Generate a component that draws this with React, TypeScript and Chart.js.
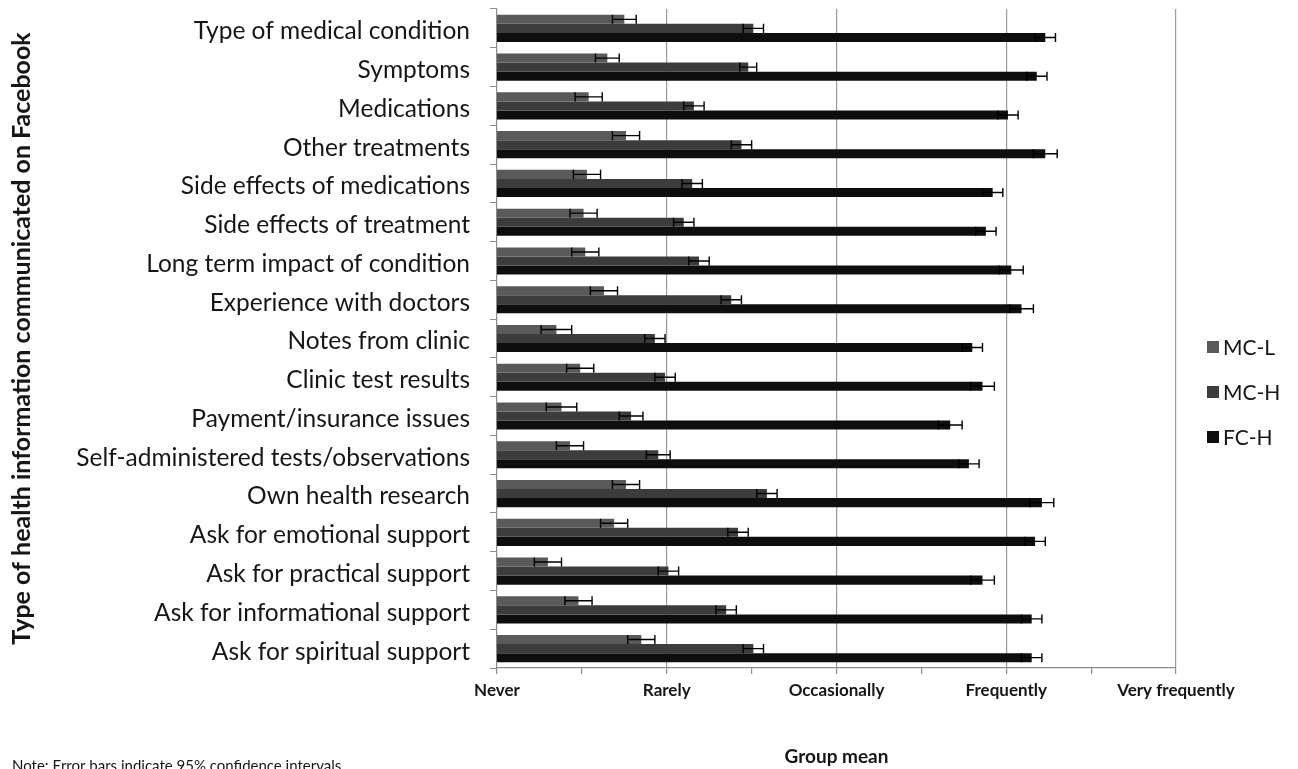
import React, { useEffect, useRef } from "react";
import { Chart, registerables } from "chart.js";

Chart.register(...registerables);

// Categories, top to bottom
const categories = [
  "Type of medical condition",
  "Symptoms",
  "Medications",
  "Other treatments",
  "Side effects of medications",
  "Side effects of treatment",
  "Long term impact of condition",
  "Experience with doctors",
  "Notes from clinic",
  "Clinic test results",
  "Payment/insurance issues",
  "Self-administered tests/observations",
  "Own health research",
  "Ask for emotional support",
  "Ask for practical support",
  "Ask for informational support",
  "Ask for spiritual support",
];

// Frequency scale labels (1 = Never ... 5 = Very frequently)
const scaleLabels = ["Never", "Rarely", "Occasionally", "Frequently", "Very frequently"];

const seriesNames = ["MC-L", "MC-H", "FC-H"];
const seriesColors = ["#5a5a5a", "#3c3c3c", "#0e0e0e"];

// Group means
const mcL = [1.75, 1.65, 1.54, 1.76, 1.53, 1.51, 1.52, 1.63, 1.35, 1.49, 1.38, 1.43, 1.76, 1.69, 1.3, 1.48, 1.85];
const mcH = [2.51, 2.48, 2.16, 2.44, 2.15, 2.1, 2.19, 2.38, 1.93, 1.99, 1.79, 1.95, 2.59, 2.42, 2.01, 2.35, 2.51];
const fcH = [4.23, 4.18, 4.01, 4.23, 3.92, 3.88, 4.03, 4.09, 3.8, 3.86, 3.67, 3.78, 4.21, 4.17, 3.86, 4.15, 4.15];

// 95% confidence interval half-widths
const mcLErr = [0.07, 0.07, 0.08, 0.08, 0.08, 0.08, 0.08, 0.08, 0.09, 0.08, 0.09, 0.08, 0.08, 0.08, 0.08, 0.08, 0.08];
const mcHErr = [0.06, 0.05, 0.06, 0.06, 0.06, 0.06, 0.06, 0.06, 0.06, 0.06, 0.07, 0.07, 0.06, 0.06, 0.06, 0.06, 0.06];
const fcHErr = [0.06, 0.06, 0.06, 0.07, 0.06, 0.06, 0.07, 0.07, 0.06, 0.07, 0.07, 0.06, 0.07, 0.06, 0.07, 0.06, 0.06];

const noteText = "Note: Error bars indicate 95% confidence intervals";

const FONT = "Lato, 'Open Sans', 'DejaVu Sans', sans-serif";
const TEXT = "#161616";
const AXIS = "#8c8c8c";

const errorBars = {
  id: "errorBars",
  afterDatasetsDraw(chart: any) {
    const ctx = chart.ctx;
    const x = chart.scales.x;
    ctx.save();
    ctx.strokeStyle = "#000";
    ctx.lineWidth = 1.4;
    chart.data.datasets.forEach((ds: any, di: number) => {
      const meta = chart.getDatasetMeta(di);
      if (meta.hidden) return;
      meta.data.forEach((bar: any, i: number) => {
        const v = ds.data[i];
        const e = ds.errors[i];
        const x0 = x.getPixelForValue(v - e);
        const x1 = x.getPixelForValue(v + e);
        const y = bar.y;
        const h = bar.height * 0.5;
        ctx.beginPath();
        ctx.moveTo(x0, y);
        ctx.lineTo(x1, y);
        ctx.moveTo(x0, y - h);
        ctx.lineTo(x0, y + h);
        ctx.moveTo(x1, y - h);
        ctx.lineTo(x1, y + h);
        ctx.stroke();
      });
    });
    ctx.restore();
  },
};

const extras = {
  id: "extras",
  afterDraw(chart: any) {
    const ctx = chart.ctx;
    const area = chart.chartArea;
    ctx.save();
    // legend
    const lx = area.right + 31;
    const ys = [347, 392, 437];
    ctx.font = `21px ${FONT}`;
    ctx.textBaseline = "middle";
    ctx.textAlign = "left";
    seriesNames.forEach((name, i) => {
      ctx.fillStyle = seriesColors[i];
      ctx.fillRect(lx, ys[i] - 6, 12, 12);
      ctx.fillStyle = TEXT;
      ctx.fillText(name, lx + 16, ys[i] + 1);
    });
    // note
    ctx.font = `15px ${FONT}`;
    ctx.fillStyle = TEXT;
    ctx.fillText(noteText, 12, 766);
    ctx.restore();
  },
};

export default function App() {
  const ref = useRef<HTMLCanvasElement>(null);

  useEffect(() => {
    if (!ref.current) return;
    const values = [mcL, mcH, fcH];
    const errs = [mcLErr, mcHErr, fcHErr];
    const chart = new Chart(ref.current, {
      type: "bar",
      data: {
        labels: categories,
        datasets: seriesNames.map((name, i) => ({
          label: name,
          data: values[i],
          errors: errs[i],
          backgroundColor: seriesColors[i],
          borderWidth: 0,
          barPercentage: 1,
          categoryPercentage: 0.7,
        })) as any,
      },
      options: {
        indexAxis: "y",
        animation: false,
        responsive: false,
        layout: { padding: { top: 9, right: 122, bottom: 0, left: 0 } },
        plugins: {
          legend: { display: false },
          tooltip: { enabled: false },
        },
        scales: {
          x: {
            type: "linear",
            min: 1,
            max: 5,
            ticks: {
              stepSize: 0.5,
              padding: 6,
              color: TEXT,
              font: { family: FONT, size: 17, weight: "bold" },
              callback: (v: any) => (Number.isInteger(v) ? scaleLabels[v - 1] : ""),
              maxRotation: 0,
              autoSkip: false,
            },
            grid: {
              color: (c: any) =>
                c.tick && Number.isInteger(c.tick.value) && c.tick.value > 1 ? "#9a9a9a" : "rgba(0,0,0,0)",
              tickColor: AXIS,
              tickLength: 6,
              lineWidth: 1.2,
            },
            border: { color: AXIS, width: 1.2 },
            title: {
              display: true,
              text: "Group mean",
              color: TEXT,
              font: { family: FONT, size: 19, weight: "bold" },
              padding: { top: 0, bottom: 1 },
            },
            afterFit: (s: any) => {
              s.height = 101;
            },
          },
          y: {
            ticks: {
              color: TEXT,
              font: { family: FONT, size: 24.5 },
              padding: 20,
              labelOffset: 3,
              autoSkip: false,
            },
            grid: {
              drawOnChartArea: false,
              tickColor: AXIS,
              tickLength: 7,
            },
            border: { color: AXIS, width: 1.2 },
            title: {
              display: true,
              text: "Type of health information communicated on Facebook",
              color: TEXT,
              font: { family: FONT, size: 25, weight: "bold" },
              padding: { top: 7, bottom: 0 },
            },
            afterFit: (s: any) => {
              s.width = 497;
              s.paddingTop = 0;
              s.paddingBottom = 0;
            },
          },
        },
      },
      plugins: [errorBars, extras],
    });
    return () => chart.destroy();
  }, []);

  return (
    <div style={{ position: "absolute", left: 0, top: 0, width: 1298, height: 769, background: "#fff" }}>
      <canvas ref={ref} width={1298} height={769} />
    </div>
  );
}
